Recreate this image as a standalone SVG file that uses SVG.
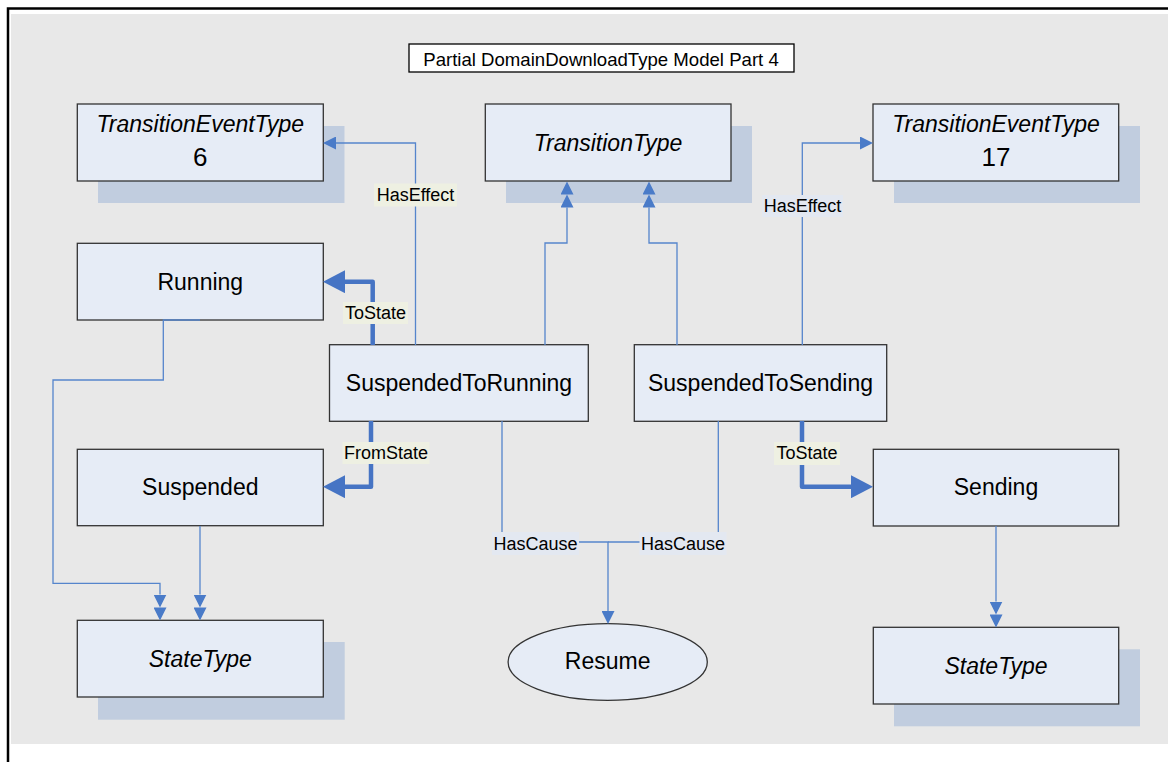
<svg xmlns="http://www.w3.org/2000/svg" width="1168" height="762" viewBox="0 0 1168 762">
<style>
.box{fill:#E6ECF6;stroke:#333;stroke-width:1.3}
.shadow{fill:#C1CDDF}
.t{font-family:"Liberation Sans",Arial,sans-serif;font-size:23px;fill:#000;text-anchor:middle}
.it{font-style:italic}
.num{font-size:26px}
.lbl{font-family:"Liberation Sans",Arial,sans-serif;font-size:18px;fill:#000;text-anchor:middle}
.bgy{fill:#EEF0E2}
.bgb{fill:#E3E8F1}
.thin{fill:none;stroke:#5585CC;stroke-width:1.3}
.thick{fill:none;stroke:#4674C4;stroke-width:4.5;stroke-linejoin:round}
</style>
<defs>
<marker id="a1" markerUnits="userSpaceOnUse" markerWidth="13" markerHeight="13" refX="0" refY="6.5" orient="auto" viewBox="0 0 13 13"><path d="M0,0 L13,6.5 L0,13 Z" fill="#4A7BC8"/></marker>
<marker id="a2" markerUnits="userSpaceOnUse" markerWidth="26" markerHeight="13" refX="0" refY="6.5" orient="auto" viewBox="0 0 26 13"><path d="M0,0 L13,6.5 L0,13 Z M13,0 L26,6.5 L13,13 Z" fill="#4A7BC8"/></marker>
<marker id="a3" markerUnits="userSpaceOnUse" markerWidth="22" markerHeight="23" refX="0" refY="11.5" orient="auto" viewBox="0 0 22 23"><path d="M0,0 L22,11.5 L0,23 Z" fill="#4674C4"/></marker>
</defs>
<rect x="0" y="0" width="1168" height="762" fill="#fff"/>
<rect x="11" y="14" width="1157" height="730" fill="#E8E8E8"/>
<path d="M8,762 V8.5 H1168" fill="none" stroke="#000" stroke-width="2.5"/>
<g id="title">
<rect x="409" y="44" width="385" height="28" fill="#fff" stroke="#000" stroke-width="1.3"/>
<text x="601" y="65.5" class="lbl" style="font-size:18.6px">Partial DomainDownloadType Model Part 4</text>
</g>
<g id="tet6">
<rect class="shadow" x="98" y="126" width="246.5" height="77"/>
<rect class="box" x="77.3" y="104" width="246" height="77"/>
<text class="t it" x="200.3" y="131.5">TransitionEventType</text>
<text class="t num" x="200.3" y="165.5">6</text>
</g>
<g id="transitionType">
<rect class="shadow" x="506" y="126" width="246" height="77"/>
<rect class="box" x="485.3" y="104" width="245.7" height="77"/>
<text class="t it" x="608" y="150.5">TransitionType</text>
</g>
<g id="tet17">
<rect class="shadow" x="894" y="126" width="246" height="77"/>
<rect class="box" x="873" y="104" width="245.7" height="77"/>
<text class="t it" x="996" y="131.5">TransitionEventType</text>
<text class="t num" x="996" y="165.5">17</text>
</g>
<g id="running">
<rect class="box" x="77.3" y="243.3" width="246" height="76.7"/>
<text class="t" x="200.3" y="290">Running</text>
</g>
<g id="s2r">
<rect class="box" x="329.5" y="344.7" width="258.8" height="76.6"/>
<text class="t" x="459" y="391">SuspendedToRunning</text>
</g>
<g id="s2s">
<rect class="box" x="634.3" y="344.7" width="252.4" height="76.6"/>
<text class="t" x="760.5" y="391">SuspendedToSending</text>
</g>
<g id="suspended">
<rect class="box" x="77.3" y="449.3" width="246" height="76.4"/>
<text class="t" x="200.3" y="495">Suspended</text>
</g>
<g id="sending">
<rect class="box" x="873.3" y="449.3" width="245.4" height="76.7"/>
<text class="t" x="996" y="495">Sending</text>
</g>
<g id="stateTypeL">
<rect class="shadow" x="98" y="642" width="246.7" height="77.7"/>
<rect class="box" x="77.3" y="620.3" width="246" height="76.7"/>
<text class="t it" x="200.3" y="666.5">StateType</text>
</g>
<g id="stateTypeR">
<rect class="shadow" x="894" y="649.3" width="246" height="77"/>
<rect class="box" x="873.3" y="627.3" width="245.4" height="76.7"/>
<text class="t it" x="996" y="674">StateType</text>
</g>
<g id="resume">
<ellipse class="box" cx="607.7" cy="662" rx="99.6" ry="38.3"/>
<text class="t" x="607.7" y="669">Resume</text>
</g>
<g id="connectors">
<path class="thin" d="M415.5,345 V143 H336" marker-end="url(#a1)"/>
<path class="thin" d="M802.3,345 V143 H860" marker-end="url(#a1)"/>
<path class="thin" d="M545,345 V243 H567 V207.5" marker-end="url(#a2)"/>
<path class="thin" d="M677,345 V243 H649 V207.5" marker-end="url(#a2)"/>
<path class="thin" d="M502,421 V542 H608 V611" marker-end="url(#a1)"/>
<path class="thin" d="M718.3,421 V542 H608"/>
<path class="thin" d="M200,320 H163.3 V380 H53 V583.3 H160 V594.5" marker-end="url(#a2)"/>
<path class="thin" d="M200,526 V594.5" marker-end="url(#a2)"/>
<path class="thin" d="M996,526 V601.5" marker-end="url(#a2)"/>
<path class="thick" d="M372.7,345 V281.7 H345" marker-end="url(#a3)"/>
<path class="thick" d="M371,421 V486.7 H345" marker-end="url(#a3)"/>
<path class="thick" d="M802,421 V486.7 H851" marker-end="url(#a3)"/>
<rect class="bgy" x="374" y="183.5" width="83" height="23"/>
<text class="lbl" x="415.5" y="200.5">HasEffect</text>
<rect class="bgb" x="762" y="195" width="81" height="22"/>
<text class="lbl" x="802.5" y="211.5">HasEffect</text>
<rect class="bgy" x="343" y="302" width="65" height="22"/>
<text class="lbl" x="375.5" y="319">ToState</text>
<rect class="bgy" x="342.5" y="442" width="87" height="22"/>
<text class="lbl" x="386" y="459">FromState</text>
<rect class="bgy" x="774" y="442" width="66" height="23"/>
<text class="lbl" x="807" y="459">ToState</text>
<rect class="bgb" x="492" y="532" width="87" height="23"/>
<text class="lbl" x="535.5" y="549.5">HasCause</text>
<rect class="bgb" x="639.5" y="532" width="87" height="23"/>
<text class="lbl" x="683" y="549.5">HasCause</text>
</g>
</svg>
